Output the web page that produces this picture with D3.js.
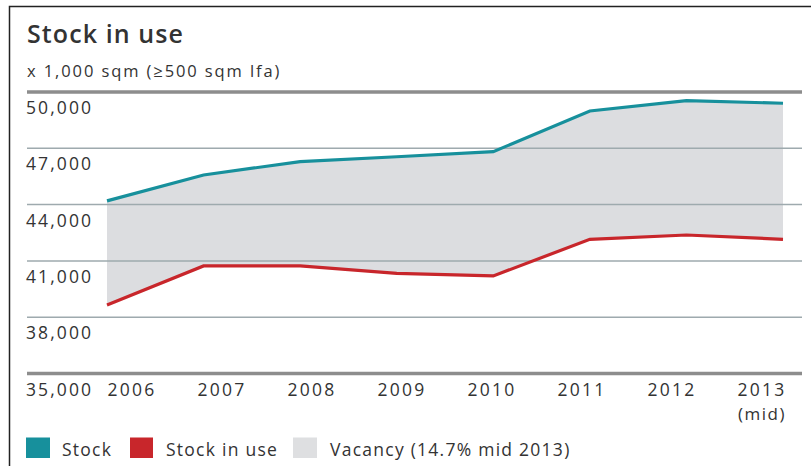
<!DOCTYPE html>
<html><head><meta charset="utf-8">
<script src="https://cdn.jsdelivr.net/npm/d3@7"></script>
<style>
body{margin:0;background:#fff;}
text{font-family:"Open Sans",sans-serif;fill:#333;}
</style></head>
<body><svg id="c" width="811" height="466"></svg>
<script>
const years = ["2006","2007","2008","2009","2010","2011","2012","2013"];
const yearSub = ["","","","","","","","(mid)"];
const stock = [44200, 45580, 46290, 46550, 46820, 48990, 49540, 49400];
const stockInUse = [38650, 40730, 40730, 40340, 40200, 42150, 42380, 42150];
const yTicks = [35000, 38000, 41000, 44000, 47000, 50000];
const legendLabels = ["Stock", "Stock in use", "Vacancy (14.7% mid 2013)"];
const colors = {stock:"#17909c", use:"#c8262b", vac:"#dcdde0"};

const svg = d3.select("#c");
// frame
svg.append("path").attr("d","M9.5,466 V6.5 H811").attr("fill","none").attr("stroke","#222").attr("stroke-width",1.5);

svg.append("text").attr("x",27).attr("y",43).attr("font-size",25).attr("font-weight",600).attr("letter-spacing",1.1).text("Stock in use");
svg.append("text").attr("x",27).attr("y",77).attr("font-size",16.5).attr("letter-spacing",1.9).text("x 1,000 sqm (\u2265500 sqm lfa)");

const x = d3.scalePoint().domain(years).range([107, 783]);
const xl = d3.scalePoint().domain(years).range([132, 762]);
const y = d3.scaleLinear().domain([35000, 50000]).range([373.5, 92]);

const data = years.map((yr,i)=>({yr, s:stock[i], u:stockInUse[i]}));

// area
svg.append("path").datum(data)
  .attr("d", d3.area().x(d=>x(d.yr)).y0(d=>y(d.u)).y1(d=>y(d.s)))
  .attr("fill", colors.vac);

// gridlines
const g = svg.append("g");
yTicks.forEach(t=>{
  const edge = (t===35000||t===50000);
  g.append("line").attr("x1",27).attr("x2",802).attr("y1",y(t)).attr("y2",y(t))
   .attr("stroke", edge? "#8d8d8d":"#9eaaae").attr("stroke-width", edge?3.5:1.5);
  g.append("text").attr("x",26).attr("y",y(t)+22).attr("font-size",17.5).attr("letter-spacing",2.1).text(d3.format(",")(t));
});

// lines
const line = acc => d3.line().x(d=>x(d.yr)).y(d=>y(acc(d)));
svg.append("path").datum(data).attr("d", line(d=>d.s)).attr("fill","none").attr("stroke",colors.stock).attr("stroke-width",3.2);
svg.append("path").datum(data).attr("d", line(d=>d.u)).attr("fill","none").attr("stroke",colors.use).attr("stroke-width",3.2);

// x labels
years.forEach((yr,i)=>{
  svg.append("text").attr("x",xl(yr)).attr("y",396).attr("text-anchor","middle").attr("font-size",17.5).attr("letter-spacing",2.2).text(yr);
  if(yearSub[i]) svg.append("text").attr("x",xl(yr)).attr("y",420).attr("text-anchor","middle").attr("font-size",17).attr("letter-spacing",1.5).text(yearSub[i]);
});

// legend
const lx = [26, 130, 293];
const lc = [colors.stock, colors.use, "#dedfe1"];
legendLabels.forEach((l,i)=>{
  svg.append("rect").attr("x",lx[i]).attr("y",437.5).attr("width",i==1?23:24).attr("height",20.5).attr("fill",lc[i]);
  svg.append("text").attr("x",lx[i]+(i==2?37:36)).attr("y",456).attr("font-size",17.5).attr("letter-spacing",1.25).text(l);
});
</script></body></html>
